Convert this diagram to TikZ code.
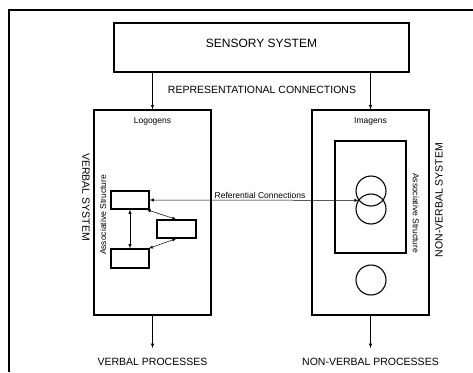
\documentclass[tikz,border=0pt]{standalone}
\usepackage{fontspec}
\setmainfont{Liberation Sans}
\begin{document}
\begin{tikzpicture}[x=1pt,y=-1pt,
    box/.style={draw,line width=1.1pt,inner sep=0pt},
    unit/.style={box,minimum width=38pt,minimum height=18pt},
    img/.style={circle,draw,line width=1.1pt,minimum size=30pt,inner sep=0pt},
    flow/.style={-latex,line width=0.5pt},
    link/.style={latex-latex,line width=0.5pt},
    caps/.style={font=\fontsize{10.5}{12}\selectfont},
    small/.style={font=\fontsize{8.5}{10}\selectfont}]
  \useasboundingbox (0,0) rectangle (473,372);
  \draw[line width=1.1pt] (9,372) -- (9,10) -- (473,10);

  % top box
  \node[box,minimum width=295pt,minimum height=49pt,text height=8.6pt,text depth=8pt,
        font=\fontsize{12}{14}\selectfont] (sensory) at (261.5,47.5) {SENSORY SYSTEM};
  \node[caps] (repr) at (262,90) {REPRESENTATIONAL CONNECTIONS};

  % the two systems
  \node[box,minimum width=117pt,minimum height=205pt] (verbal) at (152.5,212.5) {};
  \node[box,minimum width=117pt,minimum height=205pt] (nonverbal) at (370.5,212.5) {};
  \draw[flow] (verbal.north |- sensory.south) -- (verbal.north);
  \draw[flow] (nonverbal.north |- sensory.south) -- (nonverbal.north);

  \node[small] (logogens) at (152.5,121) {Logogens};
  \node[small] (imagens) at (370.5,121) {Imagens};
  \node[caps,rotate=-90] (vsys) at (86,197) {VERBAL SYSTEM};
  \node[caps,rotate=90] (nvsys) at (439,200) {NON-VERBAL SYSTEM};

  % logogens
  \node[unit] (b1) at (130,200) {};
  \node[unit,minimum width=39pt] (b2) at (176.5,229) {};
  \node[unit,minimum height=19pt] (b3) at (130,258.5) {};
  \node[small,rotate=90] (vassoc) at (103,215) {Associative Structure};
  \draw[link] (b1.south) -- (b3.north);
  \draw[link] ([xshift=-3pt]b1.south east) -- (b2.north);
  \draw[link] (b2.south) -- ([xshift=-1pt]b3.north east);

  % imagens
  \node[box,minimum width=71pt,minimum height=112pt] (group) at (370.5,197) {};
  \node[img] (c1) at (371,191) {};
  \node[img] (c2) at (371,209) {};
  \node[img] (c3) at (371,280) {};
  \node[small,rotate=-90] (nassoc) at (416,213) {Associative Structure};

  % referential connections
  \draw[link] (b1.east) -- (c1.217);
  \node[small] (ref) at (260,195) {Referential Connections};

  % outputs
  \coordinate (vout) at (152.5,348);
  \coordinate (nout) at (370.5,348);
  \draw[flow] (verbal.south) -- (vout);
  \draw[flow] (nonverbal.south) -- (nout);
  \node[caps] (vproc) at (152.5,362) {VERBAL PROCESSES};
  \node[caps] (nproc) at (370.5,362) {NON-VERBAL PROCESSES};
\end{tikzpicture}
\end{document}
